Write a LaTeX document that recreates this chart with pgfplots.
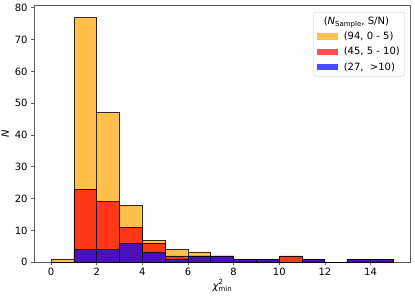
\documentclass[border=0pt]{standalone}
\usepackage{pgfplots}
\pgfplotsset{compat=1.18}
\usepackage{pgfplotstable}
\usepackage{fontspec}
\setmainfont{DejaVu Sans}

% x = bin centre; tot = all (orange layer), red = S/N>5 cumulative, blue = S/N>10
\pgfplotstableread{
x tot red blue
0.5 1 0 0
1.5 77 23 4
2.5 47 19 4
3.5 18 11 6
4.5 7 6 3
5.5 4 2 1
6.5 3 2 2
7.5 2 2 2
8.5 1 1 1
9.5 1 1 1
10.5 2 2 0
11.5 1 1 1
12.5 0 0 0
13.5 1 1 1
14.5 1 1 1
}\data

\definecolor{mplorange}{RGB}{255,165,0}
\definecolor{mplred}{RGB}{255,0,0}
\definecolor{mplblue}{RGB}{0,0,255}

\begin{document}
\fontsize{10bp}{12bp}\selectfont
\begin{tikzpicture}
\begin{axis}[
  scale only axis, width=376bp, height=257bp,
  xmin=-0.75, xmax=15.75, ymin=0, ymax=80.85,
  xtick={0,2,...,14}, ytick={0,10,...,80},
  tick align=outside, xtick pos=bottom, ytick pos=left,
  major tick length=3bp,
  axis line style={black!65, line width=0.7bp},
  tick style={black!65, line width=0.7bp},
  /pgf/number format/assume math mode=true,
  ticklabel style={font=\fontsize{10bp}{12bp}\selectfont},
  xticklabel style={yshift=1bp},
  xlabel={{\itshape χ}\rlap{\raisebox{0.9ex}{\fontsize{7bp}{8bp}\selectfont 2}}\raisebox{-0.45ex}{\fontsize{7bp}{8bp}\selectfont min}},
  ylabel={{\itshape N}},
  xlabel style={yshift=3bp},
  ylabel style={yshift=-1bp},
  label style={font=\fontsize{10bp}{12bp}\selectfont},
  legend style={at={(1,1)}, anchor=north east, xshift=-5.5bp, yshift=-7bp,
    draw=black!20, rounded corners=2bp, fill=white,
    font=\fontsize{10bp}{12bp}\selectfont, row sep=2.2bp,
    inner xsep=3bp, inner ysep=2.5bp},
  legend cell align=left,
  legend image code/.code={\fill[#1, draw=none, sharp corners, fill opacity=0.7] (0bp,-3.2bp) rectangle (21bp,3.2bp); \path[draw=none, fill=none] (0bp,-0.1bp) rectangle (25bp,0.1bp);},
]
\addlegendimage{empty legend}
\addlegendentry{\hspace*{-20bp}({\itshape N}\raisebox{-0.35ex}{\fontsize{7bp}{8bp}\selectfont Sample}, S/N)}
\addplot[ybar, bar width=1, bar shift=0pt, fill=mplorange, fill opacity=0.7, draw=black, draw opacity=0.8, line width=0.9bp] table[x=x, y=tot] {\data};
\addlegendentry{(94, 0 - 5)}
\addplot[ybar, bar width=1, bar shift=0pt, fill=mplred, fill opacity=0.7, draw=black, draw opacity=0.8, line width=0.9bp] table[x=x, y=red] {\data};
\addlegendentry{(45, 5 - 10)}
\addplot[ybar, bar width=1, bar shift=0pt, fill=mplblue, fill opacity=0.7, draw=black, draw opacity=0.8, line width=0.9bp] table[x=x, y=blue] {\data};
\addlegendentry{(27, \ >10)}
\coordinate (sw) at (rel axis cs:0,0);
\coordinate (ne) at (rel axis cs:1,1);
\end{axis}
\pgfresetboundingbox
\path[use as bounding box] ([shift={(-34bp,-35bp)}]sw) rectangle ([shift={(4.5bp,5bp)}]ne);
\end{tikzpicture}
\end{document}
